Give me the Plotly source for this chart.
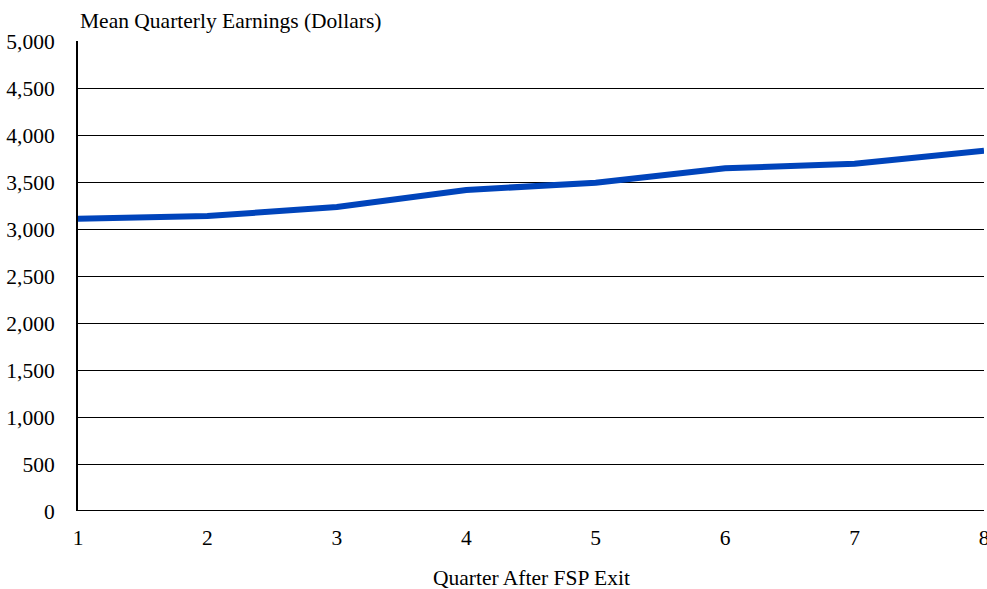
import plotly.graph_objects as go

quarters = [1, 2, 3, 4, 5, 6, 7, 8]
earnings = [3110, 3138, 3234, 3415, 3493, 3646, 3695, 3833]
y_ticks = [0, 500, 1000, 1500, 2000, 2500, 3000, 3500, 4000, 4500, 5000]
y_tick_labels = ["0", "500", "1,000", "1,500", "2,000", "2,500", "3,000",
                 "3,500", "4,000", "4,500", "5,000"]

FONT = "Liberation Serif"
FS = 21.5

fig = go.Figure()
fig.add_trace(go.Scatter(
    x=quarters, y=earnings, mode="lines",
    line=dict(color="#0044BB", width=6),
    cliponaxis=False, showlegend=False,
))

fig.update_layout(
    width=987, height=589,
    margin=dict(l=78, r=3, t=41, b=78, autoexpand=False),
    paper_bgcolor="white", plot_bgcolor="white",
    font=dict(family=FONT, size=FS, color="black"),
    xaxis=dict(
        range=[1, 8], tickvals=quarters, ticktext=[str(q) for q in quarters],
        showgrid=False, zeroline=False, showline=False,
        ticks="", ticklabelstandoff=11, automargin=False,
        ticklabeloverflow="allow",
    ),
    yaxis=dict(
        range=[0, 5000], tickvals=y_ticks, ticktext=y_tick_labels,
        showgrid=True, gridcolor="black", gridwidth=1,
        zeroline=False, showline=True, linecolor="black", linewidth=2,
        ticks="", ticklabelstandoff=17, automargin=False,
        ticklabeloverflow="allow",
    ),
    annotations=[
        dict(text="Mean Quarterly Earnings (Dollars)", xref="paper", yref="paper",
             x=0, y=1, xanchor="left", yanchor="bottom", yshift=6,
             showarrow=False, font=dict(size=FS)),
        dict(text="Quarter After FSP Exit", xref="paper", yref="paper",
             x=0.5, y=0, xanchor="center", yanchor="middle", yshift=-67,
             showarrow=False, font=dict(size=FS)),
    ],
    shapes=[dict(type="line", xref="paper", yref="y", x0=0, x1=1, y0=0, y1=0,
                 line=dict(color="black", width=2))],
)

fig.write_html(
    "out.html",
    config={"displayModeBar": False},
    post_script="document.body.style.margin='0';document.body.style.overflow='hidden';",
)
